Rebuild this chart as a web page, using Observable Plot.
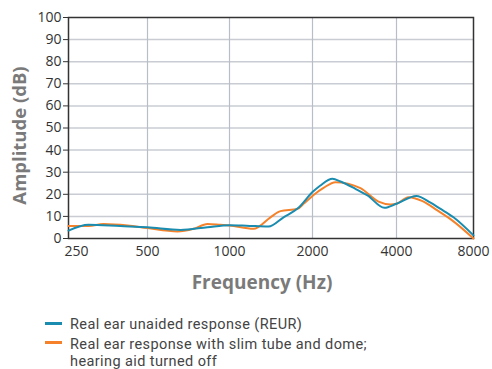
<!DOCTYPE html>
<html><head><meta charset="utf-8">
<script src="https://cdn.jsdelivr.net/npm/d3@7"></script>
<script src="https://cdn.jsdelivr.net/npm/@observablehq/plot@0.6"></script>
<style>
body{margin:0;background:#fff;font-family:"Open Sans",sans-serif;}
#wrap{position:relative;width:492px;height:369px;overflow:hidden;}
#legend{position:absolute;left:45px;top:315.6px;font-family:Roboto,sans-serif;font-size:14.5px;line-height:17px;letter-spacing:0.4px;color:#444;}
.item{display:flex;align-items:flex-start;margin-bottom:3px;}
.sw{width:17px;height:3px;margin-right:8px;flex:none;}
</style></head><body><div id="wrap"></div>
<script>
const xTicks = [250, 500, 1000, 2000, 4000, 8000];
const yTicks = [0, 10, 20, 30, 40, 50, 60, 70, 80, 90, 100];
const seriesNames = ["Real ear unaided response (REUR)", "Real ear response with slim tube and dome;\nhearing aid turned off"];
const seriesColors = ["#1a8cb0", "#f5822a"];

const reurFreq = [250, 298, 394, 500, 661, 830, 1000, 1150, 1385, 1570, 1779, 2000, 2134, 2359, 2520, 2850, 3149, 3620, 4000, 4780, 5434, 5900, 6681, 8000];
const reurDb   = [3.6, 6.2, 5.6, 5.1, 3.9, 5.1, 6.0, 5.8, 5.4, 9.6, 13.9, 21.0, 24.0, 27.0, 25.8, 22.5, 19.5, 13.9, 15.7, 19.2, 16.2, 13.6, 9.6, 1.4];

const slimFreq = [250, 298, 340, 420, 500, 644, 738, 830, 927, 1000, 1222, 1408, 1531, 1764, 1856, 2008, 2190, 2418, 2971, 3448, 3804, 4000, 4455, 5057, 5780, 6621, 8000];
const slimDb   = [5.6, 5.6, 6.6, 5.9, 4.7, 3.2, 4.4, 6.6, 6.2, 5.9, 4.4, 9.6, 12.4, 13.4, 15.7, 19.5, 22.9, 25.5, 22.8, 16.7, 15.4, 15.7, 18.7, 16.9, 12.7, 8.1, 0];

const rows = [
  ...reurFreq.map((f, i) => ({f, db: reurDb[i], s: 0})),
  ...slimFreq.map((f, i) => ({f, db: slimDb[i], s: 1}))
];
const fmt = d => String(d);

const chart = Plot.plot({
  width: 492, height: 300,
  marginTop: 17, marginBottom: 62, marginLeft: 68, marginRight: 19,
  style: {fontFamily: "'Open Sans', sans-serif", fontSize: "14px", color: "#333", background: "#fff"},
  x: {type: "log", domain: xTicks, range: [68, 147, 229, 312, 396, 473], axis: null},
  y: {domain: [0, 100], axis: null},
  marks: [
    Plot.gridY(yTicks.slice(1, -1), {stroke: "#c9ccd3", strokeOpacity: 1, strokeWidth: 1.5}),
    Plot.gridX(xTicks.slice(1, -1), {stroke: "#b9bdc5", strokeOpacity: 1, strokeWidth: 1.2}),
    Plot.frame({stroke: "#333", strokeWidth: 1.5}),
    Plot.axisY(yTicks, {tickSize: 5, tickPadding: 2, label: null, tickFormat: fmt}),
    Plot.text(xTicks, {x: d => d, text: fmt, frameAnchor: "bottom", lineAnchor: "middle", textAnchor: "middle", dy: 13, fill: "#333", fontSize: 14}),
    Plot.line(rows.filter(d => d.s === 1), {x: "f", y: "db", stroke: seriesColors[1], strokeWidth: 2, curve: "monotone-x"}),
    Plot.line(rows.filter(d => d.s === 0), {x: "f", y: "db", stroke: seriesColors[0], strokeWidth: 2, curve: "monotone-x"}),
    Plot.text(["Frequency (Hz)"], {text: d => d, frameAnchor: "bottom", lineAnchor: "middle", textAnchor: "middle", dx: -9, dy: 44.6, fontWeight: "bold", fontSize: 19, fill: "#7a7a7a"}),
    Plot.text(["Amplitude (dB)"], {text: d => d, frameAnchor: "left", lineAnchor: "middle", textAnchor: "middle", rotate: -90, dx: -48, dy: 7.5, fontWeight: "bold", fontSize: 18.5, fill: "#7a7a7a"})
  ]
});
// nudge the first tick label right, as in the reference
d3.select(chart).selectAll("text").filter(function() { return this.textContent === "250"; }).attr("dx", 8);
const wrap = document.getElementById("wrap");
wrap.appendChild(chart);

const legend = d3.select(wrap).append("div").attr("id", "legend");
seriesNames.forEach((name, i) => {
  const item = legend.append("div").attr("class", "item");
  item.append("div").attr("class", "sw").style("background", seriesColors[i]).style("margin-top", (i === 0 ? 6 : 5) + "px");
  const t = item.append("div");
  name.split("\n").forEach(line => t.append("div").text(line));
});
</script></body></html>
